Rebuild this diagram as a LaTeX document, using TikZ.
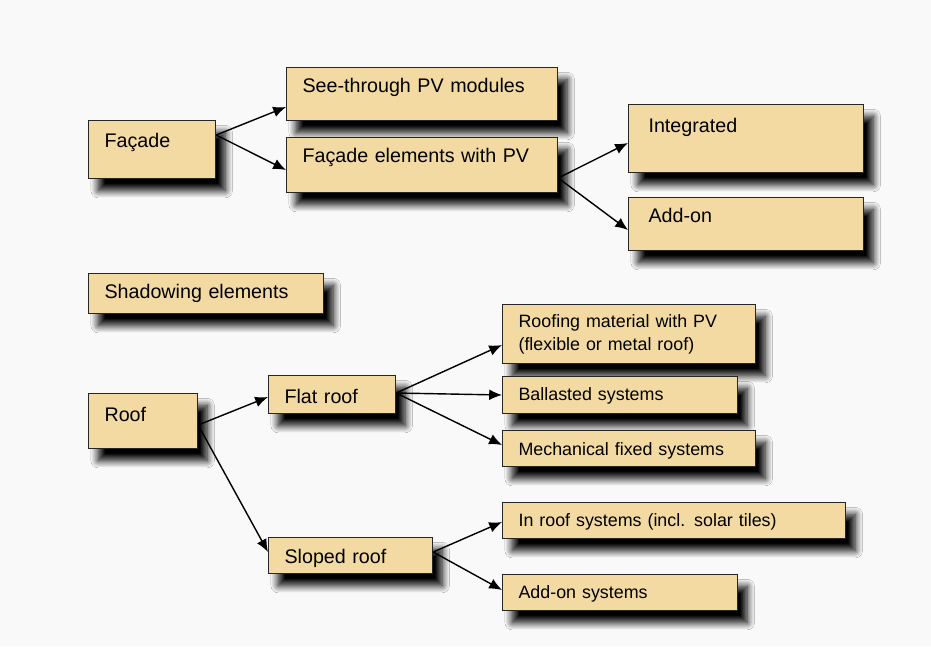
\documentclass[tikz,border=0pt]{standalone}
\usepackage{fontspec}
\setmainfont{Liberation Sans}
\usepackage{tikz}
\usetikzlibrary{calc,arrows.meta,shadows.blur}
\usepackage{xcolor}
\definecolor{boxtan}{RGB}{242,218,162}
\definecolor{paper}{RGB}{249,249,249}

\begin{document}
\begin{tikzpicture}[
    x=0.025cm, y=-0.025cm,
    block/.style={draw=black!85, line width=0.8pt, fill=boxtan, anchor=north west, align=left,
        inner xsep=0.4cm, inner ysep=0pt, font=\fontsize{14}{17}\selectfont,
        blur shadow={shadow xshift=0.24cm, shadow yshift=-0.3cm, shadow blur radius=0.18cm,
            shadow blur steps=12, shadow opacity=100}},
    small/.style={block, font=\fontsize{12.7}{16.4}\selectfont},
    line/.style={-{Latex[length=3.2mm, width=2.7mm]}, line width=1pt}
]
\fill[paper] (0,0) rectangle (931,646);

% facade branch
\node[block, text width=2.375cm, text height=0.675cm, text depth=0.775cm] (facade) at (88,120) {Façade};
\node[block, text width=5.975cm, text height=0.625cm, text depth=0.7cm] (seethrough) at (286,67) {See-through PV modules};
\node[block, text width=5.975cm, text height=0.625cm, text depth=0.75cm] (facadepv) at (286,137) {Façade elements with PV};
\node[block, inner xsep=0.5cm, text width=4.875cm, text height=0.7cm, text depth=1.0cm] (integrated) at (628,104) {Integrated};
\node[block, inner xsep=0.5cm, text width=4.875cm, text height=0.625cm, text depth=0.7cm] (addon) at (628,197) {Add-on};

\node[block, text width=5.075cm, text height=0.625cm, text depth=0.375cm] (shadowing) at (88,273) {Shadowing elements};

% roof branch
\node[block, text width=1.925cm, text height=0.7cm, text depth=0.675cm] (roof) at (88,393) {Roof};
\node[block, text width=2.375cm, text height=0.7cm, text depth=0.25cm] (flat) at (268,375) {Flat roof};
\node[block, text width=3.3cm, text height=0.65cm, text depth=0.25cm] (sloped) at (268,537) {Sloped roof};
\node[small, text width=5.525cm, text height=0.575cm, text depth=0.9cm] (roofing) at (502,304) {Roofing material with PV\\(flexible or metal roof)};
\node[small, text width=5.075cm, text height=0.6cm, text depth=0.325cm] (ballasted) at (502,376) {Ballasted systems};
\node[small, text width=5.525cm, text height=0.625cm, text depth=0.275cm] (mechanical) at (502,430) {Mechanical fixed systems};
\node[small, text width=7.775cm, text height=0.6cm, text depth=0.3cm] (inroof) at (502,502) {In roof systems (incl. solar tiles)};
\node[small, text width=5.075cm, text height=0.6cm, text depth=0.3cm] (addonsys) at (502,574) {Add-on systems};

\draw[line] ($(facade.north east)+(0,15)$) -- ($(seethrough.north west)+(0,40)$);
\draw[line] ($(facade.north east)+(0,15)$) -- ($(facadepv.north west)+(0,33)$);
\draw[line] ($(facadepv.north east)+(0,41)$) -- ($(integrated.north west)+(0,39)$);
\draw[line] ($(facadepv.north east)+(0,41)$) -- ($(addon.north west)+(0,33)$);

\draw[line] ($(roof.north east)+(0,32)$) -- ($(flat.north west)+(0,22)$);
\draw[line] ($(roof.north east)+(0,32)$) -- ($(sloped.north west)+(0,15)$);
\draw[line] ($(flat.north east)+(0,18)$) -- ($(roofing.north west)+(0,41)$);
\draw[line] ($(flat.north east)+(0,18)$) -- ($(ballasted.north west)+(0,19)$);
\draw[line] ($(flat.north east)+(0,18)$) -- ($(mechanical.north west)+(0,15)$);
\draw[line] ($(sloped.north east)+(0,15)$) -- ($(inroof.north west)+(0,20)$);
\draw[line] ($(sloped.north east)+(0,15)$) -- ($(addonsys.north west)+(0,16)$);
\end{tikzpicture}
\end{document}
